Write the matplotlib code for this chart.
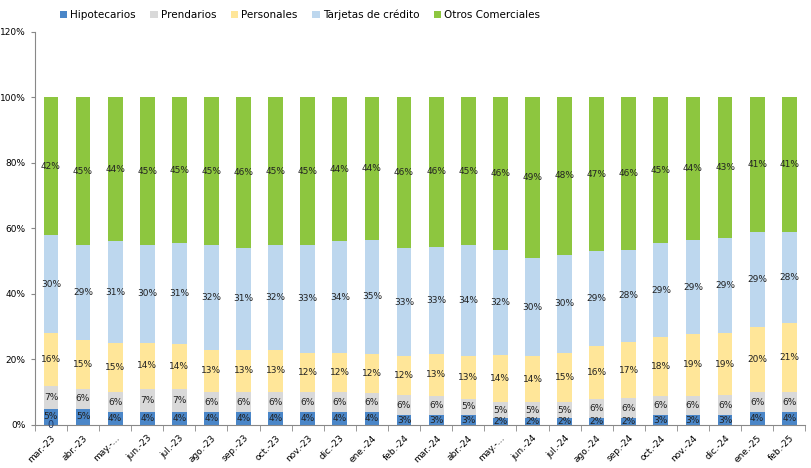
import numpy as np
import matplotlib.pyplot as plt
from matplotlib.ticker import PercentFormatter

meses = ["mar.-23", "abr.-23", "may.-...", "jun.-23", "jul.-23", "ago.-23", "sep.-23", "oct.-23",
         "nov.-23", "dic.-23", "ene.-24", "feb.-24", "mar.-24", "abr.-24", "may.-...", "jun.-24",
         "jul.-24", "ago.-24", "sep.-24", "oct.-24", "nov.-24", "dic.-24", "ene.-25", "feb.-25"]

hipotecarios = [5, 5, 4, 4, 4, 4, 4, 4, 4, 4, 4, 3, 3, 3, 2, 2, 2, 2, 2, 3, 3, 3, 4, 4]
prendarios = [7, 6, 6, 7, 7, 6, 6, 6, 6, 6, 6, 6, 6, 5, 5, 5, 5, 6, 6, 6, 6, 6, 6, 6]
personales = [16, 15, 15, 14, 14, 13, 13, 13, 12, 12, 12, 12, 13, 13, 14, 14, 15, 16, 17, 18, 19, 19, 20, 21]
tarjetas = [30, 29, 31, 30, 31, 32, 31, 32, 33, 34, 35, 33, 33, 34, 32, 30, 30, 29, 28, 29, 29, 29, 29, 28]
otros = [42, 45, 44, 45, 45, 45, 46, 45, 45, 44, 44, 46, 46, 45, 46, 49, 48, 47, 46, 45, 44, 43, 41, 41]

series = [("Hipotecarios", hipotecarios, "#4a86c8"),
          ("Prendarios", prendarios, "#d9d9d9"),
          ("Personales", personales, "#ffe699"),
          ("Tarjetas de crédito", tarjetas, "#bdd7ee"),
          ("Otros Comerciales", otros, "#8dc63f")]

# labels are rounded, so scale each month to a 100% stack
total = np.sum([np.array(s[1], dtype=float) for s in series], axis=0)

fig = plt.figure(figsize=(8.11, 4.68), dpi=100)
ax = fig.add_axes([0.043, 0.092, 0.95, 0.84])

x = np.arange(len(meses))
bottom = np.zeros(len(meses))
for name, vals, color in series:
    vals = np.array(vals, dtype=float)
    h = vals / total * 100
    ax.bar(x, h, 0.46, bottom=bottom, color=color, label=name)
    for xi, b, hv, v in zip(x, bottom, h, vals):
        ax.text(xi, b + hv / 2, f"{int(v)}%", ha="center", va="center", fontsize=6.5, color="#222222")
    bottom += h

ax.text(0, 0, "0", ha="center", va="center", fontsize=7, color="#1f3864")

ax.set_xlim(-0.5, len(meses) - 0.5)
ax.set_ylim(0, 120)
ax.set_yticks(np.arange(0, 121, 20))
ax.yaxis.set_major_formatter(PercentFormatter(decimals=0))
ax.tick_params(axis="y", labelsize=6.5, length=3, color="#888888")
ax.set_xticks(x)
ax.set_xticklabels(meses, rotation=45, ha="right", rotation_mode="anchor", fontsize=6.5)
ax.set_xticks(np.arange(-0.5, len(meses), 1), minor=True)
ax.tick_params(axis="x", which="major", length=0, pad=6)
ax.tick_params(axis="x", which="minor", length=4, color="#888888")
for s in ["top", "right"]:
    ax.spines[s].set_visible(False)
ax.spines["left"].set_color("#888888")
ax.spines["bottom"].set_color("#888888")

fig.legend(loc="upper center", bbox_to_anchor=(0.37, 1.0), ncol=5, fontsize=7.5, frameon=False,
           handlelength=0.7, handleheight=0.7, handletextpad=0.3, columnspacing=1.4)

fig.savefig("out.png", dpi=100)
